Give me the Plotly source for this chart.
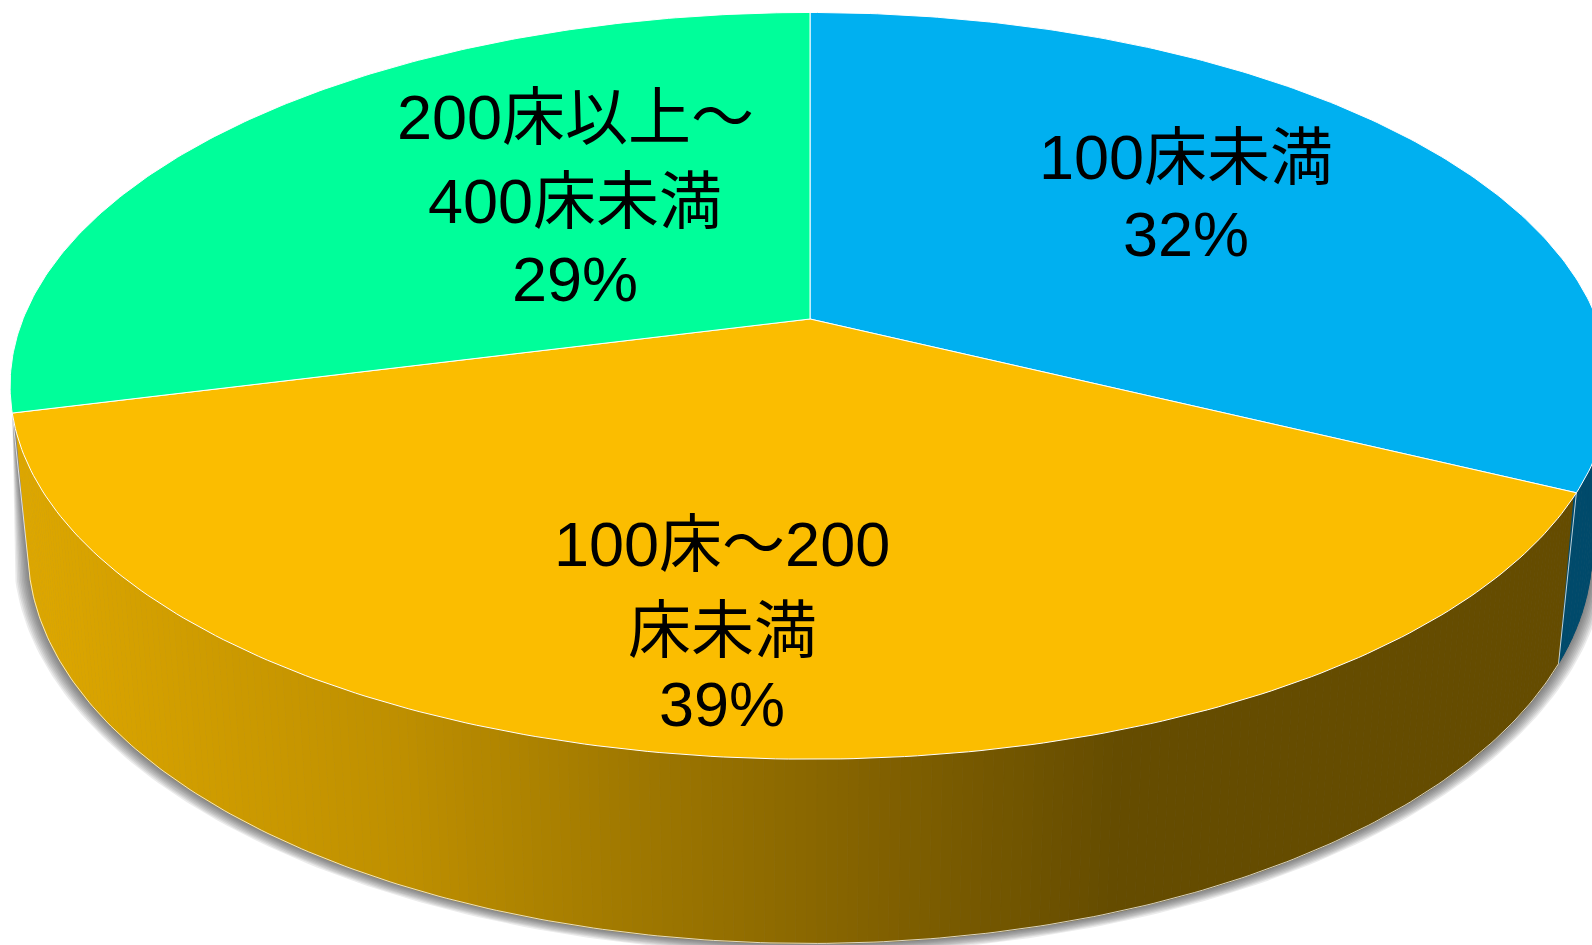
import numpy as np
import plotly.graph_objects as go

# values, the labels show them rounded
categories = ["100床未満", "100床～200床未満", "200床以上～400床未満"]
shares = [32.3, 38.7, 29.0]
top_colors = ["#00B0F0", "#FBBD00", "#00FE9A"]

# wrapped like the original data labels, the last line is the share
label_lines = [["100床未満"], ["100床～200", "床未満"], ["200床以上～", "400床未満"]]

# gradient on the side of the middle slice (page x, colour)
grad_x = [20, 400, 650, 900, 1120, 1592]
grad_r = [221, 190, 157, 127, 101, 101]
grad_g = [167, 143, 118, 95, 76, 76]
blue_side = "#004A6B"

W, H = 1592, 945
CX, CY = 810, 319
SX, SY = 787, 361.4
PERSP = 0.179
DEPTH_W, DEPTH_Y = 0.022, 165

# where each label's lines sit
text_x = [1186, 722, 575]
text_y = [[157, 234], [544, 630, 704], [117, 201, 279]]


def project(angle, radius=1.0, bottom=False):
    # clockwise from 12 o'clock, flat disc seen in perspective
    X = radius * np.sin(angle)
    Y = radius * np.cos(angle)
    w = 1 + PERSP * Y + (DEPTH_W if bottom else 0)
    drop = DEPTH_Y if bottom else 0
    return CX + SX * X / w, CY + (drop - SY * Y) / w


def side_colour(px):
    r = np.interp(px, grad_x, grad_r)
    g = np.interp(px, grad_x, grad_g)
    return f"rgb({r:.0f},{g:.0f},0)"


def poly(x, y, fill, line=None, width=0.0):
    return go.Scatter(x=x, y=y, mode="lines", fill="toself", fillcolor=fill,
                      line=dict(color=line or fill, width=width), hoverinfo="skip", showlegend=False)


def edge_line(x, y):
    return go.Scatter(x=x, y=y, mode="lines", line=dict(color="rgba(255,255,255,0.75)", width=1),
                      hoverinfo="skip", showlegend=False)


def strips(a0, a1, n, colour):
    # side wall as thin quads so the gradient and the outline both hold
    t = np.linspace(a0, a1, n)
    tx, ty = project(t, 0.997)  # just inside the top rim, the top covers it
    bx, by = project(t, bottom=True)
    for k in range(n - 1):
        c = colour((tx[k] + tx[k + 1]) / 2)
        fig.add_trace(poly([tx[k], tx[k + 1], bx[k + 1], bx[k]], [ty[k], ty[k + 1], by[k + 1], by[k]], c, width=1))


edges = np.cumsum([0] + shares) / sum(shares) * 2 * np.pi
wall_start = np.radians(70)

fig = go.Figure()

# soft shadow round the bottom rim, it fades out at the left corner
corner_x, corner_y = project(edges[2])
for e in np.arange(0.018, 0, -0.002):
    t = np.linspace(wall_start, edges[2], 241)
    sx, sy = project(t, 1 + e, bottom=True)
    fig.add_trace(poly(np.r_[sx, corner_x, CX], np.r_[sy, corner_y, CY], "rgba(70,70,70,0.11)"))

# side wall, the green slice has none in view
strips(wall_start, edges[1], 40, lambda px: blue_side)
strips(edges[1], edges[2], 221, side_colour)

# thin light edges of the side wall
t = np.linspace(edges[1], edges[2], 241)
fig.add_trace(edge_line(*project(t, bottom=True)))
for a in edges[1:3]:
    ex0, ey0 = project(a)
    ex1, ey1 = project(a, bottom=True)
    fig.add_trace(edge_line([ex0, ex1], [ey0, ey1]))

# top of the pie
for i in range(len(shares)):
    t = np.linspace(edges[i], edges[i + 1], 181)
    px, py = project(t)
    fig.add_trace(poly(np.r_[CX, px, CX], np.r_[CY, py, CY], top_colors[i], line="#FFFFFF", width=1))

# labels
for i in range(len(shares)):
    lines = label_lines[i] + [f"{round(shares[i])}%"]
    for n, text in enumerate(lines):
        fig.add_annotation(x=text_x[i], y=text_y[i][n], text=text, showarrow=False,
                           xanchor="center", yanchor="middle",
                           font=dict(family="Liberation Sans, Noto Sans CJK JP", size=63, color="#000000"))

fig.update_xaxes(visible=False, range=[0, W], fixedrange=True)
fig.update_yaxes(visible=False, range=[H, 0], fixedrange=True)
fig.update_layout(width=W, height=H, margin=dict(l=0, r=0, t=0, b=0),
                  paper_bgcolor="#FFFFFF", plot_bgcolor="#FFFFFF", showlegend=False)

fig.write_html("out.html", config=dict(displayModeBar=False),
               post_script="document.body.style.margin='0';document.body.style.overflow='hidden';")
